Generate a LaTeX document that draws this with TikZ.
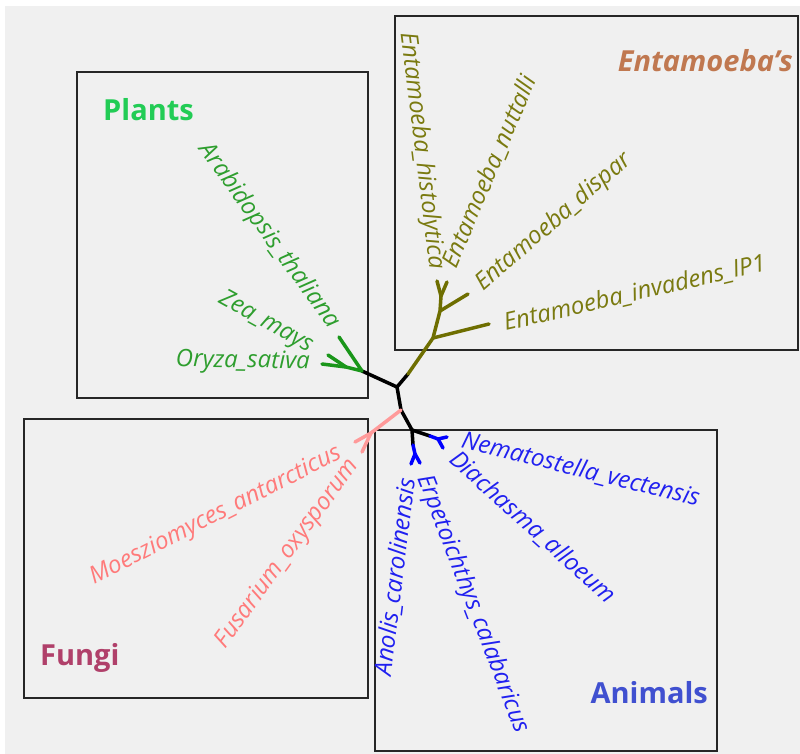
\documentclass[tikz,border=0pt]{standalone}
\usepackage{fontspec}
\setmainfont{Open Sans}
\usepackage{xcolor}
\usetikzlibrary{positioning}

\definecolor{bggray}{HTML}{F0F0F0}
\definecolor{plantgreen}{HTML}{2E9E2E}
\definecolor{plantbranch}{HTML}{1A961A}
\definecolor{planttitle}{HTML}{22CC55}
\definecolor{entolive}{HTML}{7A7A10}
\definecolor{entbranch}{HTML}{6E6E00}
\definecolor{enttitle}{HTML}{C07850}
\definecolor{fungipink}{HTML}{FF7A7A}
\definecolor{fungibranch}{HTML}{FF9A9A}
\definecolor{fungititle}{HTML}{B0406A}
\definecolor{animalblue}{HTML}{2020F0}
\definecolor{animaltitle}{HTML}{4050D0}

\begin{document}
\begin{tikzpicture}[x=1pt, y=-1pt,
    branch/.style={line width=3.5pt, line cap=round, line join=round},
    leaf/.style={font=\fontsize{24}{27}\selectfont\itshape, inner sep=1pt},
    clade/.style={font=\fontsize{29}{32}\selectfont\bfseries, inner sep=0pt},
    groupbox/.style={draw=black!85, line width=1.6pt}]
    \useasboundingbox (0,0) rectangle (800,754);
    \fill[white] (0,0) rectangle (800,754);
    \fill[bggray] (5,6) rectangle (800,754);

    % group boxes
    \draw[groupbox] (395,16) rectangle (798,350);
    \draw[groupbox] (77,72) rectangle (368,398);
    \draw[groupbox] (24,419) rectangle (368,698);
    \draw[groupbox] (375,430) rectangle (717,751);

    % tree points
    \coordinate (root) at (397,387);
    \coordinate (pl0) at (362,371);
    \coordinate (pl1) at (346,367);
    \coordinate (en0) at (408,374);
    \coordinate (en1) at (433,338);
    \coordinate (en2) at (440,311);
    \coordinate (en3) at (441,296);
    \coordinate (fa0) at (401,410);
    \coordinate (fu1) at (371,433);
    \coordinate (an0) at (412,430);
    \coordinate (an1) at (413,445);
    \coordinate (an2) at (415,454);
    \coordinate (an3) at (430,436);
    \coordinate (an4) at (438,439);

    % leaf tips
    \coordinate (tArab) at (339,337);
    \coordinate (tZea) at (328,355);
    \coordinate (tOry) at (322,364);
    \coordinate (tInv) at (489,324);
    \coordinate (tDis) at (468,294);
    \coordinate (tHis) at (437,281);
    \coordinate (tNut) at (447,282);
    \coordinate (tMoe) at (355,442);
    \coordinate (tFus) at (362,452);
    \coordinate (tAno) at (411,464);
    \coordinate (tErp) at (420,463);
    \coordinate (tNem) at (447,437);
    \coordinate (tDia) at (443,448);

    % branches
    \draw[branch, black] (pl0) -- (root) -- (en0);
    \draw[branch, black] (root) -- (fa0) -- (an0) -- (an1);
    \draw[branch, black] (an0) -- (an3);
    \draw[branch, plantbranch] (tArab) -- (pl0) -- (pl1) -- (tOry);
    \draw[branch, plantbranch] (pl1) -- (tZea);
    \draw[branch, entbranch] (en0) -- (en1) -- (en2) -- (en3) -- (tHis);
    \draw[branch, entbranch] (en1) -- (tInv);
    \draw[branch, entbranch] (en2) -- (tDis);
    \draw[branch, entbranch] (en3) -- (tNut);
    \draw[branch, fungibranch] (fa0) -- (fu1) -- (tMoe);
    \draw[branch, fungibranch] (fu1) -- (tFus);
    \draw[branch, blue] (an1) -- (an2) -- (tAno);
    \draw[branch, blue] (an2) -- (tErp);
    \draw[branch, blue] (an3) -- (an4) -- (tNem);
    \draw[branch, blue] (an4) -- (tDia);

    % leaf labels
    \node[leaf, text=plantgreen, rotate=-54, anchor=east] (arab) at (335,327) {Arabidopsis\_thaliana};
    \node[leaf, text=plantgreen, rotate=-29, anchor=east] (zea) at (312,348) {Zea\_mays};
    \node[leaf, text=plantgreen, rotate=-1, anchor=east] (ory) at (311,363) {Oryza\_sativa};
    \node[leaf, text=entolive, rotate=-83, anchor=east] (his) at (436,270) {Entamoeba\_histolytica};
    \node[leaf, text=entolive, rotate=67, anchor=west] (nut) at (449,268) {Entamoeba\_nuttalli};
    \node[leaf, text=entolive, rotate=41, anchor=west] (dis) at (478,288) {Entamoeba\_dispar};
    \node[leaf, text=entolive, rotate=13, anchor=west] (inv) at (503,324) {Entamoeba\_invadens\_IP1};
    \node[leaf, text=fungipink, rotate=27, anchor=east] (moe) at (341,452) {Moesziomyces\_antarcticus};
    \node[leaf, text=fungipink, rotate=54, anchor=east] (fus) at (355,461) {Fusarium\_oxysporum};
    \node[leaf, text=animalblue, rotate=83, anchor=east] (ano) at (408,477) {Anolis\_carolinensis};
    \node[leaf, text=animalblue, rotate=-69, anchor=west] (erp) at (423,475) {Erpetoichthys\_calabaricus};
    \node[leaf, text=animalblue, rotate=-42, anchor=west] (dia) at (452,455) {Diachasma\_alloeum};
    \node[leaf, text=animalblue, rotate=-14, anchor=west] (nem) at (461,440) {Nematostella\_vectensis};

    % clade titles
    \node[clade, text=planttitle, anchor=west] (plants) at (103,110) {Plants};
    \node[clade, text=enttitle, anchor=east, font=\fontsize{29}{32}\selectfont\bfseries\itshape] (ent) at (793,61) {Entamoeba's};
    \node[clade, text=fungititle, anchor=west] (fungi) at (40,658) {Fungi};
    \node[clade, text=animaltitle, anchor=east] (animals) at (708,693) {Animals};
\end{tikzpicture}
\end{document}
